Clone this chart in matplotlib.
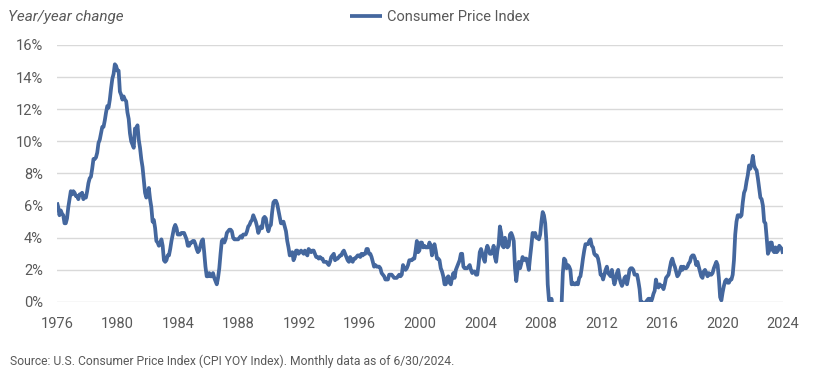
import numpy as np
import matplotlib
matplotlib.use("Agg")
import matplotlib.pyplot as plt

# Monthly CPI year/year change (%), May 1976 – Jun 2024
cpi_yoy = {
    1976: [6.2, 5.9, 5.4, 5.7, 5.5, 5.4, 4.9, 4.9],
    1977: [5.2, 5.9, 6.4, 6.9, 6.7, 6.9, 6.8, 6.6, 6.6, 6.4, 6.7, 6.7],
    1978: [6.8, 6.4, 6.6, 6.5, 6.9, 7.4, 7.7, 7.8, 8.3, 8.9, 8.9, 9.0],
    1979: [9.3, 9.9, 10.1, 10.5, 10.9, 10.9, 11.3, 11.8, 12.2, 12.1, 12.6, 13.3],
    1980: [13.9, 14.2, 14.8, 14.7, 14.4, 14.4, 13.1, 12.9, 12.6, 12.8, 12.6, 12.5],
    1981: [11.8, 11.4, 10.5, 10.0, 9.8, 9.6, 10.8, 10.8, 11.0, 10.1, 9.6, 8.9],
    1982: [8.4, 7.6, 6.8, 6.5, 6.7, 7.1, 6.4, 5.9, 5.0, 5.1, 4.6, 3.8],
    1983: [3.7, 3.5, 3.6, 3.9, 3.5, 2.6, 2.5, 2.6, 2.9, 2.9, 3.3, 3.8],
    1984: [4.2, 4.6, 4.8, 4.6, 4.2, 4.2, 4.2, 4.3, 4.3, 4.3, 4.1, 3.9],
    1985: [3.5, 3.5, 3.7, 3.7, 3.8, 3.8, 3.6, 3.3, 3.1, 3.2, 3.5, 3.8],
    1986: [3.9, 3.1, 2.2, 1.6, 1.6, 1.8, 1.6, 1.6, 1.8, 1.5, 1.3, 1.1],
    1987: [1.5, 2.1, 3.0, 3.8, 3.9, 3.7, 3.9, 4.3, 4.4, 4.5, 4.5, 4.4],
    1988: [4.0, 3.9, 3.9, 3.9, 3.9, 4.0, 4.1, 4.0, 4.2, 4.2, 4.2, 4.4],
    1989: [4.7, 4.8, 5.0, 5.1, 5.4, 5.2, 5.0, 4.7, 4.3, 4.5, 4.7, 4.6],
    1990: [5.2, 5.3, 5.2, 4.7, 4.4, 4.7, 4.8, 5.6, 6.2, 6.3, 6.3, 6.1],
    1991: [5.7, 5.3, 4.9, 4.9, 5.0, 4.7, 4.4, 3.8, 3.4, 2.9, 3.0, 3.1],
    1992: [2.6, 2.8, 3.2, 3.2, 3.0, 3.1, 3.2, 3.1, 3.0, 3.2, 3.0, 2.9],
    1993: [3.3, 3.2, 3.1, 3.2, 3.2, 3.0, 2.8, 2.8, 2.7, 2.8, 2.7, 2.7],
    1994: [2.5, 2.5, 2.5, 2.4, 2.3, 2.5, 2.8, 2.9, 3.0, 2.6, 2.7, 2.7],
    1995: [2.8, 2.9, 2.9, 3.1, 3.2, 3.0, 2.8, 2.6, 2.5, 2.8, 2.6, 2.5],
    1996: [2.7, 2.7, 2.8, 2.9, 2.9, 2.8, 3.0, 2.9, 3.0, 3.0, 3.3, 3.3],
    1997: [3.0, 3.0, 2.8, 2.5, 2.2, 2.3, 2.2, 2.2, 2.2, 2.1, 1.8, 1.7],
    1998: [1.6, 1.4, 1.4, 1.4, 1.7, 1.7, 1.7, 1.6, 1.5, 1.5, 1.5, 1.6],
    1999: [1.7, 1.6, 1.7, 2.3, 2.1, 2.0, 2.1, 2.3, 2.6, 2.6, 2.6, 2.7],
    2000: [2.7, 3.2, 3.8, 3.1, 3.2, 3.7, 3.7, 3.4, 3.5, 3.4, 3.4, 3.4],
    2001: [3.7, 3.5, 2.9, 3.3, 3.6, 3.2, 2.7, 2.7, 2.6, 2.1, 1.9, 1.6],
    2002: [1.1, 1.1, 1.5, 1.6, 1.2, 1.1, 1.5, 1.8, 1.5, 2.0, 2.2, 2.4],
    2003: [2.6, 3.0, 3.0, 2.2, 2.1, 2.1, 2.1, 2.2, 2.3, 2.0, 1.8, 1.9],
    2004: [1.9, 1.7, 1.7, 2.3, 3.1, 3.3, 3.0, 2.7, 2.5, 3.2, 3.5, 3.3],
    2005: [3.0, 3.0, 3.1, 3.5, 2.8, 2.5, 3.2, 3.6, 4.7, 4.3, 3.5, 3.4],
    2006: [4.0, 3.6, 3.4, 3.5, 4.2, 4.3, 4.1, 3.8, 2.1, 1.3, 2.0, 2.5],
    2007: [2.1, 2.4, 2.8, 2.6, 2.7, 2.7, 2.4, 2.0, 2.8, 3.5, 4.3, 4.1],
    2008: [4.3, 4.0, 4.0, 3.9, 4.2, 5.0, 5.6, 5.4, 4.9, 3.7, 1.1, 0.1],
    2009: [0.0, 0.2, -0.4, -0.7, -1.3, -1.4, -2.1, -1.5, -1.3, -0.2, 1.8, 2.7],
    2010: [2.6, 2.1, 2.3, 2.2, 2.0, 1.1, 1.2, 1.1, 1.1, 1.2, 1.1, 1.5],
    2011: [1.6, 2.1, 2.7, 3.2, 3.6, 3.6, 3.6, 3.8, 3.9, 3.5, 3.4, 3.0],
    2012: [2.9, 2.9, 2.7, 2.3, 1.7, 1.7, 1.4, 1.7, 2.0, 2.2, 1.8, 1.7],
    2013: [1.6, 2.0, 1.5, 1.1, 1.4, 1.8, 2.0, 1.5, 1.2, 1.0, 1.2, 1.5],
    2014: [1.6, 1.1, 1.5, 2.0, 2.1, 2.1, 2.0, 1.7, 1.7, 1.7, 1.3, 0.8],
    2015: [-0.1, 0.0, -0.1, -0.2, 0.0, 0.1, 0.2, 0.2, 0.0, 0.2, 0.5, 0.7],
    2016: [1.4, 1.0, 0.9, 1.1, 1.0, 1.0, 0.8, 1.1, 1.5, 1.6, 1.7, 2.1],
    2017: [2.5, 2.7, 2.4, 2.2, 1.9, 1.6, 1.7, 1.9, 2.2, 2.0, 2.2, 2.1],
    2018: [2.1, 2.2, 2.4, 2.5, 2.8, 2.9, 2.9, 2.7, 2.3, 2.5, 2.2, 1.9],
    2019: [1.6, 1.5, 1.9, 2.0, 1.8, 1.6, 1.8, 1.7, 1.7, 1.8, 2.1, 2.3],
    2020: [2.5, 2.3, 1.5, 0.3, 0.1, 0.6, 1.0, 1.3, 1.4, 1.2, 1.2, 1.4],
    2021: [1.4, 1.7, 2.6, 4.2, 5.0, 5.4, 5.4, 5.3, 5.4, 6.2, 6.8, 7.0],
    2022: [7.5, 7.9, 8.5, 8.3, 8.6, 9.1, 8.5, 8.3, 8.2, 7.7, 7.1, 6.5],
    2023: [6.4, 6.0, 5.0, 4.9, 4.0, 3.0, 3.2, 3.7, 3.7, 3.2, 3.1, 3.4],
    2024: [3.1, 3.2, 3.5, 3.4, 3.3, 3.0],
}
x_labels = ['1976', '1980', '1984', '1988', '1992', '1996', '2000',
            '2004', '2008', '2012', '2016', '2020', '2024']
y_ticks = [0, 2, 4, 6, 8, 10, 12, 14, 16]

values = np.array([v for yr in cpi_yoy for v in cpi_yoy[yr]])
idx = np.arange(len(values))

plt.rcParams['font.family'] = ['Roboto', 'DejaVu Sans']
fig = plt.figure(figsize=(8.22, 3.75), dpi=100)
ax = fig.add_axes([0.0693, 0.1947, 0.8833, 0.6853])

line_color = '#44679e'
ax.plot(idx, values, color=line_color, lw=2.7, label='Consumer Price Index',
        solid_joinstyle='round', solid_capstyle='butt')
ax.set_xlim(0, len(values) - 1)
ax.set_ylim(0, 16)
ax.set_yticks(y_ticks)
ax.set_yticklabels([f"{t}%" for t in y_ticks])
ax.set_xticks(np.linspace(0, len(values) - 1, len(x_labels)))
ax.set_xticklabels(x_labels)
ax.grid(axis='y', color='#d9d9d9', lw=1)
ax.set_axisbelow(True)
for s in ax.spines.values():
    s.set_visible(False)
ax.tick_params(length=0, labelsize=10.5, colors='#595959')
ax.tick_params(axis='x', pad=11)
ax.tick_params(axis='y', pad=10)

fig.text(0.010, 0.955, 'Year/year change', fontsize=11, style='italic', color='#595959',
         va='center', ha='left')
leg = fig.legend(loc='center', bbox_to_anchor=(0.535, 0.955), frameon=False, fontsize=10.5,
                 handlelength=2.2, handletextpad=0.3)
for t in leg.get_texts():
    t.set_color('#595959')
fig.text(0.012, 0.037, 'Source: U.S. Consumer Price Index (CPI YOY Index). Monthly data as of 6/30/2024.',
         fontsize=8.7, color='#595959', va='center', ha='left')

fig.savefig('out.png', dpi=100)
